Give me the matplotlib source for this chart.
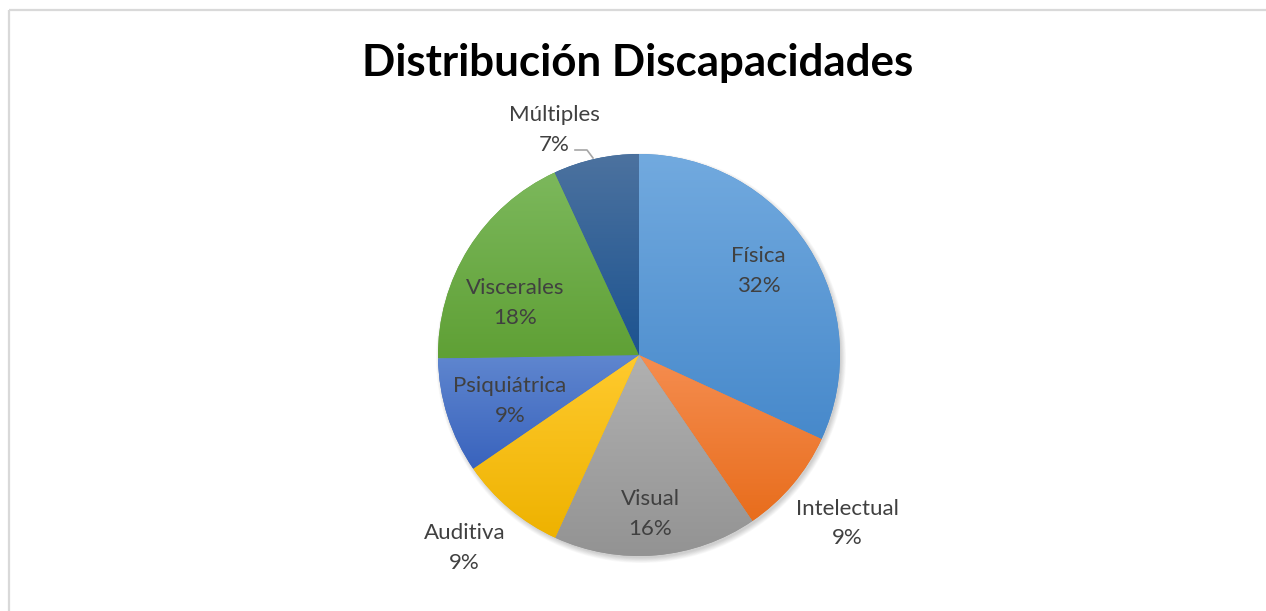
import matplotlib
matplotlib.use("Agg")
import matplotlib.pyplot as plt
import numpy as np
from matplotlib.colors import LinearSegmentedColormap
from matplotlib.patches import Circle

# datos
categorias = ['Física', 'Intelectual', 'Visual', 'Auditiva', 'Psiquiátrica', 'Viscerales', 'Múltiples']
valores = [31.9, 8.6, 16.4, 8.6, 9.3, 18.4, 6.9]
porcentajes = ['32%', '9%', '16%', '9%', '9%', '18%', '7%']

# colores degradado (arriba, abajo)
col_arriba = ['#72aadf', '#f58d50', '#b1b1b1', '#ffca2e', '#5f86cf', '#7cb85c', '#4c729f']
col_abajo = ['#4789cb', '#e86d1c', '#939393', '#eeb200', '#3963bd', '#5fa035', '#1c5390']

# posicion etiquetas: (angulo, distancia relativa al radio)
pos_etiq = [(35.3, 0.73), (-38.8, 1.33), (-86.0, 0.79), (-132.3, 1.29),
            (-160.8, 0.68), (156.7, 0.67), (110.5, 1.20)]

W, H = 1266, 611
cx, cy, R = 639, 256, 201

fig = plt.figure(figsize=(W / 100, H / 100), dpi=100)
ax = fig.add_axes([0, 0, 1, 1])
ax.set_xlim(0, W)
ax.set_ylim(0, H)
ax.set_aspect('equal')
ax.axis('off')

# borde del grafico
ax.plot([9, 9], [0, H - 10], color='#d9d9d9', lw=1.6, solid_capstyle='butt')
ax.plot([9, W], [H - 10, H - 10], color='#d9d9d9', lw=1.6, solid_capstyle='butt')

# sombra suave
for i in range(8):
    ax.add_patch(Circle((cx + 2, cy - 3), R + 4 - i * 0.7, color='black',
                        alpha=0.025, lw=0, zorder=1))

wedges, _ = ax.pie(valores, startangle=90, counterclock=False, center=(cx, cy),
                   radius=R, colors=col_abajo, frame=True,
                   wedgeprops=dict(linewidth=0, zorder=2))
ax.set_xlim(0, W)
ax.set_ylim(0, H)
ax.axis('off')

for w, c1, c2 in zip(wedges, col_arriba, col_abajo):
    bb = w.get_path().get_extents()
    cmap = LinearSegmentedColormap.from_list('g', [c2, c1])
    grad = np.linspace(0, 1, 256).reshape(-1, 1)
    im = ax.imshow(grad, cmap=cmap, origin='lower', aspect='auto',
                   extent=[bb.x0, bb.x1, bb.y0, bb.y1], zorder=3)
    im.set_clip_path(w)

fuente = 'Lato'
for nombre, pct, (ang, d) in zip(categorias, porcentajes, pos_etiq):
    x = cx + d * R * np.cos(np.radians(ang))
    y = cy + d * R * np.sin(np.radians(ang)) - 1
    ax.text(x, y, nombre + '\n' + pct, ha='center', va='center', fontsize=16,
            color='#404040', family=fuente, linespacing=1.62, zorder=5)

# linea guia de Multiples
ax.plot([575, 587, 593], [H - 150, H - 150, H - 158], color='#a6a6a6', lw=1.2, zorder=5)

ax.text(638, H - 63, 'Distribución Discapacidades', ha='center', va='center',
        fontsize=31.6, fontweight='bold', color='#000000', family=fuente)

fig.savefig('out.png', dpi=100)
